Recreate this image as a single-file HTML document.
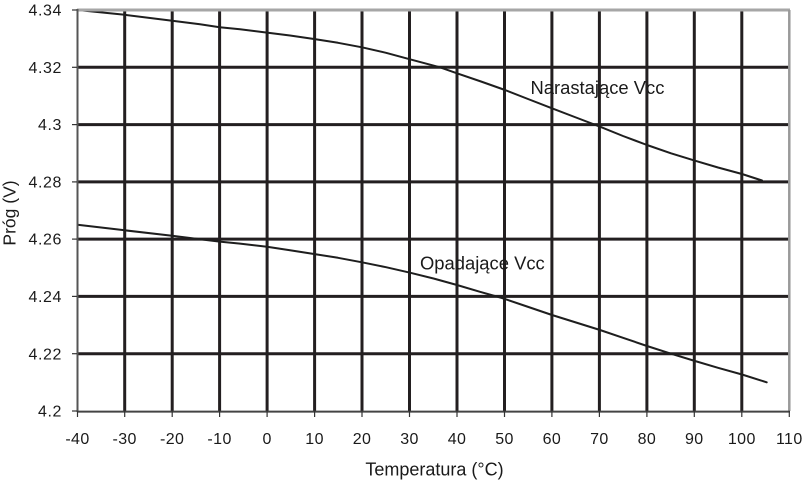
<!DOCTYPE html>
<html><head><meta charset="utf-8"><style>
html,body{margin:0;padding:0;background:#fff;}
svg{display:block;}
text{font-family:"Liberation Sans",Arial,sans-serif;fill:#1a1a1a;}
</style></head><body>
<svg width="805" height="482" viewBox="0 0 805 482" xmlns="http://www.w3.org/2000/svg">
<rect x="0" y="0" width="805" height="482" fill="#fff"/>
<g stroke="#231f20" stroke-width="3">
<line x1="124.7" y1="10" x2="124.7" y2="411"/>
<line x1="172.2" y1="10" x2="172.2" y2="411"/>
<line x1="219.6" y1="10" x2="219.6" y2="411"/>
<line x1="267.1" y1="10" x2="267.1" y2="411"/>
<line x1="314.6" y1="10" x2="314.6" y2="411"/>
<line x1="362.0" y1="10" x2="362.0" y2="411"/>
<line x1="409.5" y1="10" x2="409.5" y2="411"/>
<line x1="457.0" y1="10" x2="457.0" y2="411"/>
<line x1="504.5" y1="10" x2="504.5" y2="411"/>
<line x1="551.9" y1="10" x2="551.9" y2="411"/>
<line x1="599.4" y1="10" x2="599.4" y2="411"/>
<line x1="646.9" y1="10" x2="646.9" y2="411"/>
<line x1="694.3" y1="10" x2="694.3" y2="411"/>
<line x1="741.8" y1="10" x2="741.8" y2="411"/>
<line x1="77.5" y1="67.3" x2="789.5" y2="67.3"/>
<line x1="77.5" y1="124.6" x2="789.5" y2="124.6"/>
<line x1="77.5" y1="181.9" x2="789.5" y2="181.9"/>
<line x1="77.5" y1="239.1" x2="789.5" y2="239.1"/>
<line x1="77.5" y1="296.4" x2="789.5" y2="296.4"/>
<line x1="77.5" y1="353.7" x2="789.5" y2="353.7"/>
</g>
<g fill="none" stroke="#1e1e1e" stroke-width="2" stroke-linejoin="round" stroke-linecap="round">
<polyline points="77.5,10 124.7,14.8 172.2,20.8 200,24.3 219.7,27.2 240,29.3 267,32.6 290,35.5 314,39 338,42.8 362,47.3 386,52.8 410,59.3 440,67.3 457,73.3 481,81.5 505,90 528,99 552,108.3 576,117.5 600,126.7 623,136 647,145 671,153.3 695,160.7 718,167.5 742,174 762,180.5"/>
<polyline points="77.5,224.8 124.7,230.3 172,235.8 196,238.8 219.7,241.6 240,243.6 267,246.7 290,250.2 314,254 338,257.8 362,262.3 386,267.2 410,272.7 434,278.6 457,285 480,291.8 502,298 527,306.5 552,315 576,322.5 600,330 623,337.8 647,346 671,353.7 695,361 718,367.8 742,374.5 766.7,382.3"/>
</g>
<line x1="77" y1="10" x2="790" y2="10" stroke="#a6a6a6" stroke-width="3"/>
<line x1="789.3" y1="10" x2="789.3" y2="411" stroke="#9a9a9a" stroke-width="2.5"/>
<line x1="77.5" y1="9" x2="77.5" y2="412" stroke="#555" stroke-width="2"/>
<line x1="77" y1="411.6" x2="790" y2="411.6" stroke="#444" stroke-width="2"/>
<g stroke="#333" stroke-width="1.2">
<line x1="72" y1="10" x2="77" y2="10"/>
<line x1="72" y1="67.3" x2="77" y2="67.3"/>
<line x1="72" y1="124.6" x2="77" y2="124.6"/>
<line x1="72" y1="181.9" x2="77" y2="181.9"/>
<line x1="72" y1="239.1" x2="77" y2="239.1"/>
<line x1="72" y1="296.4" x2="77" y2="296.4"/>
<line x1="72" y1="353.7" x2="77" y2="353.7"/>
<line x1="72" y1="411" x2="77" y2="411"/>
<line x1="77.5" y1="411" x2="77.5" y2="417"/>
<line x1="124.7" y1="411" x2="124.7" y2="417"/>
<line x1="172.2" y1="411" x2="172.2" y2="417"/>
<line x1="219.6" y1="411" x2="219.6" y2="417"/>
<line x1="267.1" y1="411" x2="267.1" y2="417"/>
<line x1="314.6" y1="411" x2="314.6" y2="417"/>
<line x1="362.0" y1="411" x2="362.0" y2="417"/>
<line x1="409.5" y1="411" x2="409.5" y2="417"/>
<line x1="457.0" y1="411" x2="457.0" y2="417"/>
<line x1="504.5" y1="411" x2="504.5" y2="417"/>
<line x1="551.9" y1="411" x2="551.9" y2="417"/>
<line x1="599.4" y1="411" x2="599.4" y2="417"/>
<line x1="646.9" y1="411" x2="646.9" y2="417"/>
<line x1="694.3" y1="411" x2="694.3" y2="417"/>
<line x1="741.8" y1="411" x2="741.8" y2="417"/>
<line x1="789.3" y1="411" x2="789.3" y2="417"/>
</g>
<g font-size="16" text-anchor="end" letter-spacing="0.6">
<text x="62" y="15.6">4.34</text>
<text x="62" y="72.9">4.32</text>
<text x="62" y="130.2">4.3</text>
<text x="62" y="187.5">4.28</text>
<text x="62" y="244.7">4.26</text>
<text x="62" y="302">4.24</text>
<text x="62" y="359.3">4.22</text>
<text x="62" y="416.6">4.2</text>
</g>
<g font-size="16" text-anchor="middle" letter-spacing="0.4">
<text x="77.5" y="444">-40</text>
<text x="124.7" y="444">-30</text>
<text x="172.2" y="444">-20</text>
<text x="219.6" y="444">-10</text>
<text x="267.1" y="444">0</text>
<text x="314.6" y="444">10</text>
<text x="362.0" y="444">20</text>
<text x="409.5" y="444">30</text>
<text x="457.0" y="444">40</text>
<text x="504.5" y="444">50</text>
<text x="551.9" y="444">60</text>
<text x="599.4" y="444">70</text>
<text x="646.9" y="444">80</text>
<text x="694.3" y="444">90</text>
<text x="741.8" y="444">100</text>
<text x="789.3" y="444">110</text>
</g>
<text x="434.5" y="475.5" font-size="18" text-anchor="middle">Temperatura (°C)</text>
<text transform="translate(15.5,213) rotate(-90)" font-size="17.5" text-anchor="middle">Próg (V)</text>
<text x="530.5" y="94" font-size="18.4">Narastające Vcc</text>
<text x="420" y="269.5" font-size="18.4">Opadające Vcc</text>
</svg>
</body></html>
